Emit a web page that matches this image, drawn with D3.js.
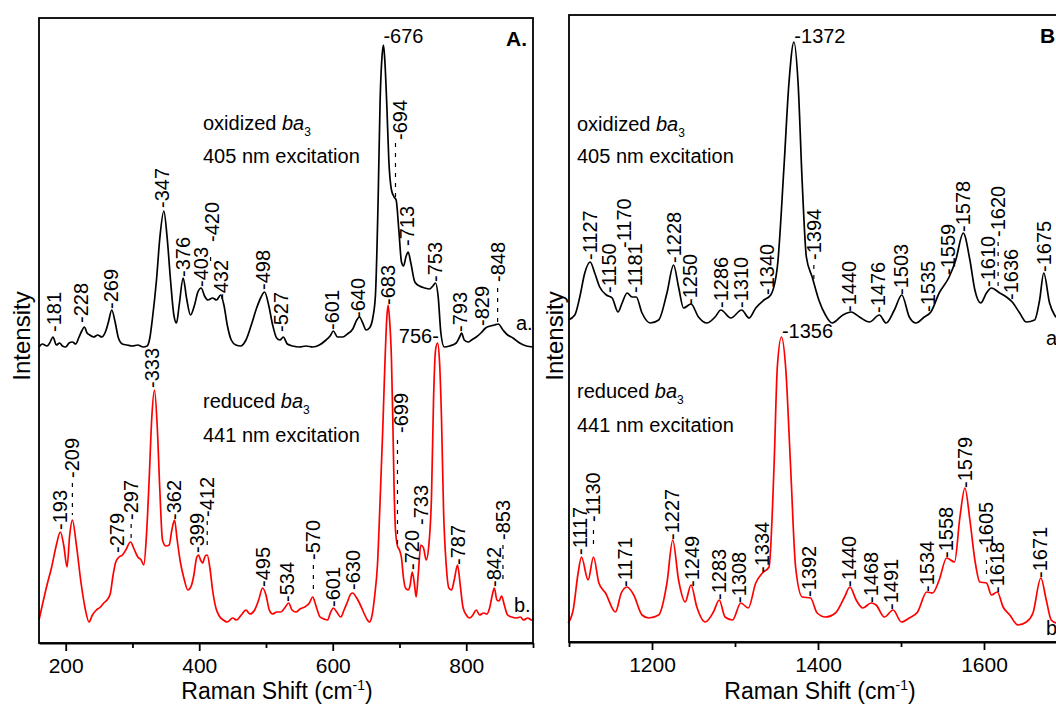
<!DOCTYPE html>
<html>
<head>
<meta charset="utf-8">
<script src="https://cdn.jsdelivr.net/npm/d3@7"></script>
<style>
  body { margin: 0; background: #fff; }
  svg { display: block; }
  text { font-family: Arial, "Liberation Sans", Helvetica, sans-serif; fill: #000; }
</style>
</head>
<body>
<svg id="chart" width="1056" height="704"></svg>
<script>
// ---- data: Raman shift (cm-1), intensity (arb. units) ----
const oxidizedA = [
  [160,296],[165,299],[172,297],[176,300],[181,306],[186,298],[191,300],[195,297],[200,296],[205,300],
  [210,301],[215,299],[220,306],[224,312],[228,316],[232,310],[236,308],[242,306],[248,308],[254,306],
  [260,312],[264,321],[269,333],[274,321],[279,305],[285,299],[292,298],[300,297],[308,298],[316,296],
  [322,297],[326,305],[330,325],[336,363],[341,405],[347,432],[352,405],[357,363],[362,328],[366,320],
  [370,338],[376,365],[381,345],[387,328],[393,338],[398,351],[403,355],[408,347],[413,343],[420,345],
  [426,343],[432,348],[437,338],[442,318],[448,303],[455,298],[462,297],[470,303],[478,318],[486,335],
  [492,345],[498,351],[504,338],[510,318],[516,305],[521,303],[526,306],[532,299],[540,297],[550,296],
  [560,297],[570,296],[580,298],[590,303],[596,307],[601,312],[607,306],[615,306],[622,309],[630,314],
  [636,323],[640,326],[645,320],[650,313],[655,315],[660,325],[664,348],[668,443],[671,543],[674,588],
  [676,598],[678,583],[681,538],[684,483],[688,453],[692,446],[695,443],[699,413],[703,381],[706,377],
  [710,387],[713,391],[717,380],[723,361],[730,357],[738,355],[745,354],[750,357],[754,360],[758,346],
  [762,310],[767,296],[775,297],[785,300],[790,306],[793,310],[797,303],[803,301],[808,303],[815,306],
  [822,310],[829,315],[836,317],[842,318],[848,319],[855,313],[862,308],[870,305],[880,300],[890,297],
  [900,296]
];
const reducedA = [
  [160,23],[165,38],[172,58],[179,76],[186,98],[192,111],[197,98],[202,76],[206,108],[210,123],
  [216,98],[223,60],[229,35],[235,21],[240,28],[246,33],[252,36],[257,40],[262,43],[267,50],
  [271,68],[275,81],[280,86],[285,88],[290,93],[297,101],[303,93],[308,86],[313,83],[317,78],
  [321,108],[325,163],[329,226],[333,253],[337,218],[341,153],[345,103],[350,97],[355,98],[359,113],
  [363,123],[367,103],[372,80],[377,65],[383,53],[388,57],[392,68],[396,85],[399,88],[402,83],
  [405,80],[409,87],[412,88],[416,75],[420,53],[425,35],[430,27],[436,23],[442,21],[450,25],
  [456,23],[463,28],[470,33],[476,29],[483,33],[489,43],[495,55],[500,48],[505,33],[510,29],
  [516,31],[522,31],[528,35],[534,40],[539,33],[545,31],[551,34],[558,36],[565,40],[570,46],
  [575,37],[581,26],[587,24],[592,23],[597,31],[601,35],[606,31],[612,26],[617,33],[622,41],
  [627,49],[630,50],[635,46],[640,40],[646,31],[652,23],[655,21],[659,28],[663,48],[667,78],
  [671,143],[675,215],[678,276],[681,325],[683,338],[685,325],[688,283],[690,223],[692,153],[694,113],
  [697,97],[700,93],[703,85],[706,65],[709,55],[713,53],[716,58],[719,71],[722,61],[725,46],
  [728,68],[732,98],[736,95],[740,83],[744,98],[748,148],[751,243],[754,293],[757,300],[760,281],
  [763,223],[766,133],[770,78],[774,55],[778,53],[782,63],[787,78],[791,58],[795,36],[800,28],
  [805,25],[810,28],[815,33],[820,28],[826,30],[831,29],[835,35],[839,48],[842,55],[846,43],
  [849,42],[853,47],[857,38],[862,28],[868,26],[875,25],[881,26],[886,23],[892,25],[898,23],[900,24]
];
const oxidizedB = [
  [1099,322],[1107,327],[1113,345],[1119,369],[1125.5,380],[1131,369],[1137,355],[1145,347],[1152,344],[1159,330],
  [1164,339],[1170,349],[1176,345],[1181,345],[1188,329],[1198,319],[1208,322],[1218,349],[1226,377],[1232,355],
  [1238,334],[1247,338],[1256,325],[1266,319],[1276,325],[1283,332],[1295,324],[1308,332],[1317,324],[1325,334],
  [1335,342],[1343,347],[1351,375],[1359,475],[1365,559],[1371,600],[1376,559],[1381,459],[1386,385],[1393,365],
  [1401,342],[1409,327],[1417,319],[1430,327],[1440,330],[1450,325],[1462,320],[1474,327],[1482,319],[1492,332],
  [1501,347],[1510,325],[1518,319],[1528,325],[1536,330],[1546,349],[1558,365],[1566,382],[1575,409],[1583,382],
  [1589,352],[1596,339],[1603,349],[1609,354],[1619,349],[1627,345],[1634,340],[1643,329],[1651,320],[1661,322],
  [1667,342],[1672,369],[1679,339],[1685,327],[1692,322],[1700,320]
];
const reducedB = [
  [1099,19],[1105,32],[1111,69],[1115,85],[1123,62],[1129.5,85],[1136,59],[1144,49],[1156,30],[1163,49],
  [1170,55],[1178,47],[1188,27],[1196,24],[1208,27],[1218,59],[1225,102],[1232,62],[1240,40],[1247,57],
  [1254,35],[1264,20],[1274,30],[1281,42],[1288,25],[1297,22],[1307,39],[1316,34],[1325,59],[1333,69],
  [1341,75],[1347,175],[1351,275],[1356,305],[1361,275],[1367,175],[1373,75],[1381,45],[1391,44],[1399,29],
  [1409,25],[1421,29],[1432,45],[1438.5,55],[1446,42],[1454,34],[1464,39],[1470,37],[1480,25],[1490.5,32],
  [1500.5,20],[1510,24],[1520,30],[1531,50],[1538,49],[1546,62],[1555,84],[1564.5,80],[1571,125],[1577,154],
  [1583,122],[1589,82],[1595,60],[1603,59],[1609,47],[1616,50],[1623,35],[1631,27],[1641,17],[1651,20],
  [1659,29],[1668.5,64],[1675,42],[1681,22],[1687,19],[1700,18]
];

// peak labels: [band, shift where label sits, intensity at label foot]
const oxLabelsA = [
  [181,182,311],[228,223,320],[269,268,334],[347,344,435],[376,375,366],[403,402,356],[420,419,401],
  [432,433,343],[498,496,353],[527,522,311],[601,599,313],[640,638,325],[683,683,338],[694,701,503],
  [713,712,397],[753,753,361],[793,790,311],[829,824,317],[848,847,361]
];
const redLabelsA = [
  [193,192,113],[209,210,165],[279,277,90],[297,298,123],[333,329,255],[362,362,123],[399,397,90],
  [412,412,126],[495,495,56],[534,532,41],[570,571,83],[601,601,36],[630,630,53],[699,702,210],
  [720,719,73],[733,732,118],[787,787,78],[842,841,56],[853,855,103]
];
const oxLabelsB = [
  [1127,1125.5,382],[1150,1147.6,349],[1170,1166,394],[1181,1180,349],[1228,1226,379],[1250,1246,337],
  [1286,1282.6,334],[1310,1307,334],[1340,1339,347],[1394,1395,382],[1440,1437.7,330],[1476,1472,329],
  [1503,1500,347],[1535,1532,330],[1559,1556.5,367],[1578,1574.6,410],[1610,1605,355],[1620,1617,405],
  [1636,1633,342],[1675,1672,370]
];
const redLabelsB = [
  [1117,1113,87],[1130,1129.5,120],[1171,1167,55],[1227,1224,102],[1249,1248,55],[1283,1281,42],
  [1308,1305,39],[1334,1332,69],[1392,1389,45],[1440,1437,55],[1468,1464,39],[1491,1488,32],
  [1534,1531.5,50],[1558,1554,84],[1579,1577,154],[1605,1603,89],[1618,1615.7,49],[1671,1667,64]
];
// horizontal labels: [text, shift, intensity of baseline, anchor]
const flatLabelsA = [['-676',676,600,'start'],['756-',759,300,'end']];
const flatLabelsB = [['-1372',1371.5,599,'start'],['-1356',1356.5,304,'start']];
// dashed leaders: [shift, top intensity, bottom intensity]
const leadersA = [[694,500,446],[417,386,380],[847,355,321],[210,160,128],[298,119,105],[412,122,95],[571,78,48],[697,203,96],[855,98,63]];
const leadersB = [[1395,377,362],[1617,400,352],[1129.5,112,92],[1603,82,67]];

const majorTicksA = [200, 400, 600, 800];
const minorTicksA = [300, 500, 700, 900];
const majorTicksB = [1200, 1400, 1600];
const minorTicksB = [1100, 1300, 1500, 1700];

const svg = d3.select('#chart');

const panels = [
  {
    domain: [160, 900], left: 39, right: 533, top: 18, bottom: 643, yMax: 625,
    ox: oxidizedA, red: reducedA, oxLabels: oxLabelsA, redLabels: redLabelsA,
    flat: flatLabelsA, leaders: leadersA, major: majorTicksA, minor: minorTicksA,
    letter: 'A.', textX: 203, oxText: [130, 163], redText: [408, 442],
    aPos: [516, 330], bPos: [514, 612], titleX: 277, ylabX: 30
  },
  {
    domain: [1100, 1700], left: 569, right: 1067, top: 15, bottom: 642, yMax: 627,
    ox: oxidizedB, red: reducedB, oxLabels: oxLabelsB, redLabels: redLabelsB,
    flat: flatLabelsB, leaders: leadersB, major: majorTicksB, minor: minorTicksB,
    letter: 'B.', textX: 577, oxText: [131, 163], redText: [398, 432],
    aPos: [1046, 345], bPos: [1046, 635], titleX: 820, ylabX: 563
  }
];

function drawPanel(p) {
  const x = d3.scaleLinear().domain(p.domain).range([p.left, p.right]);
  const y = d3.scaleLinear().domain([0, p.yMax]).range([p.bottom, p.top]);
  const g = svg.append('g');

  // y label
  g.append('text')
    .attr('transform', `translate(${p.ylabX},${336}) rotate(-90)`)
    .attr('text-anchor', 'middle')
    .style('font-size', '24px')
    .text('Intensity');

  const line = d3.line().x(d => x(d[0])).y(d => y(d[1])).curve(d3.curveMonotoneX);

  g.append('path').datum(p.ox)
    .attr('d', line).attr('fill', 'none').attr('stroke', '#000').attr('stroke-width', 1.7);
  g.append('path').datum(p.red)
    .attr('d', line).attr('fill', 'none').attr('stroke', '#ff0000').attr('stroke-width', 1.7);

  // frame
  g.append('rect')
    .attr('x', p.left).attr('y', p.top)
    .attr('width', p.right - p.left).attr('height', p.bottom - p.top)
    .attr('fill', 'none').attr('stroke', '#000').attr('stroke-width', 1.8);

  // x axis
  const major = g.append('g').attr('transform', `translate(0,${p.bottom})`)
    .call(d3.axisBottom(x).tickValues(p.major).tickSize(8).tickSizeOuter(0).tickFormat(d3.format('d')));
  major.select('.domain').attr('stroke-width', 1.8);
  major.selectAll('.tick line').attr('stroke-width', 1.8);
  major.selectAll('.tick text').style('font-size', '21px').attr('y', 15)
    .style('font-family', 'Arial, "Liberation Sans", sans-serif');
  const minor = g.append('g').attr('transform', `translate(0,${p.bottom})`)
    .call(d3.axisBottom(x).tickValues(p.minor).tickSize(5).tickSizeOuter(0).tickFormat(''));
  minor.select('.domain').remove();
  minor.selectAll('.tick line').attr('stroke-width', 1.8);

  const title = g.append('text')
    .attr('x', p.titleX).attr('y', 699)
    .attr('text-anchor', 'middle')
    .style('font-size', '23px');
  title.append('tspan').text('Raman Shift (cm');
  title.append('tspan').attr('dy', -9).style('font-size', '14px').text('-1');
  title.append('tspan').attr('dy', 9).text(')');

  // annotations
  const ann = (yy, parts) => {
    const t = g.append('text').attr('x', p.textX).attr('y', yy).style('font-size', '20px');
    parts(t);
  };
  const sample = word => t => {
    t.append('tspan').text(word + ' ');
    t.append('tspan').style('font-style', 'italic').text('ba');
    t.append('tspan').attr('dy', 6).style('font-size', '12px').text('3');
  };
  ann(p.oxText[0], sample('oxidized'));
  ann(p.oxText[1], t => t.text('405 nm excitation'));
  ann(p.redText[0], sample('reduced'));
  ann(p.redText[1], t => t.text('441 nm excitation'));

  g.append('text').attr('x', p.right - 6).attr('y', p.top + 28)
    .attr('text-anchor', 'end').style('font-size', '21px').style('font-weight', 'bold')
    .text(p.letter);
  g.append('text').attr('x', p.aPos[0]).attr('y', p.aPos[1]).style('font-size', '20px').text('a.');
  g.append('text').attr('x', p.bPos[0]).attr('y', p.bPos[1]).style('font-size', '20px').text('b.');

  // rotated peak labels
  g.selectAll('text.peak')
    .data(p.oxLabels.concat(p.redLabels))
    .join('text')
    .attr('class', 'peak')
    .attr('transform', d => `translate(${x(d[1])},${y(d[2])}) rotate(-90)`)
    .attr('dy', '0.35em')
    .style('font-size', '20px')
    .text(d => '-' + d[0]);

  g.selectAll('text.flat')
    .data(p.flat)
    .join('text')
    .attr('class', 'flat')
    .attr('x', d => x(d[1])).attr('y', d => y(d[2]))
    .attr('text-anchor', d => d[3])
    .style('font-size', '20px')
    .text(d => d[0]);

  g.selectAll('line.leader')
    .data(p.leaders)
    .join('line')
    .attr('class', 'leader')
    .attr('x1', d => x(d[0])).attr('x2', d => x(d[0]))
    .attr('y1', d => y(d[1])).attr('y2', d => y(d[2]))
    .attr('stroke', '#000').attr('stroke-width', 1.2)
    .attr('stroke-dasharray', '4,6');
}

panels.forEach(drawPanel);
</script>
</body>
</html>
